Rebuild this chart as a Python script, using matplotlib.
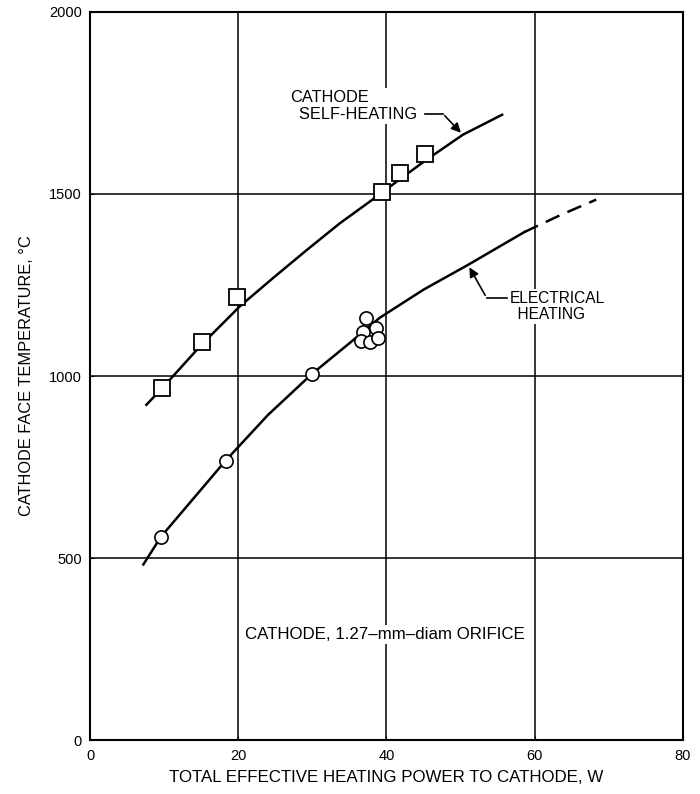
import matplotlib
matplotlib.use("Agg")
import matplotlib.pyplot as plt

# measured points
self_x = [9.75, 15.06, 19.8, 39.4, 41.8, 45.2]
self_y = [967, 1094, 1217, 1506, 1558, 1608]

elec_x = [9.57, 18.3, 29.9, 37.2, 36.8, 38.6, 36.5, 37.8, 38.9]
elec_y = [559, 768, 1005, 1159, 1122, 1133, 1095, 1093, 1105]

# curves
self_curve_x = [7.6, 9.75, 15.0, 20.2, 24.7, 29.2, 33.7, 39.4, 41.8, 45.3, 50.3, 55.6]
self_curve_y = [921, 967, 1085, 1191, 1269, 1345, 1419, 1503, 1540, 1592, 1662, 1717]

elec_curve_x = [7.2, 9.57, 14.0, 18.3, 24.0, 29.9, 35.0, 39.1, 45.0, 51.0, 58.6]
elec_curve_y = [483, 559, 665, 768, 893, 1005, 1090, 1160, 1237, 1305, 1395]
elec_dash_x = [58.6, 63.5, 68.3]
elec_dash_y = [1395, 1442, 1484]

plt.rcParams['font.family'] = ['Liberation Sans', 'DejaVu Sans']

fig = plt.figure(figsize=(7.0, 7.94), dpi=100)
ax = fig.add_axes([0.1286, 0.0674, 0.847, 0.918])

ax.set_xlim(0, 80)
ax.set_ylim(0, 2000)
ax.set_xticks([0, 20, 40, 60, 80])
ax.set_yticks([0, 500, 1000, 1500, 2000])
ax.grid(True, color='black', linewidth=1.1, zorder=1)
for s in ax.spines.values():
    s.set_linewidth(1.5)
ax.tick_params(direction='in', length=3, labelsize=10.5, pad=6)

ax.plot(self_curve_x, self_curve_y, color='black', lw=1.8, zorder=3)
ax.plot(elec_curve_x, elec_curve_y, color='black', lw=1.8, zorder=3)
ax.plot(elec_dash_x, elec_dash_y, color='black', lw=1.8, dashes=(6, 3.5), zorder=3)

ax.plot(self_x, self_y, 's', ms=11, mfc='white', mec='black', mew=1.3, zorder=4)
ax.plot(elec_x, elec_y, 'o', ms=9.5, mfc='white', mec='black', mew=1.2, zorder=4)

bbox = dict(facecolor='white', edgecolor='none', pad=1.5)
ax.text(27.0, 1740, 'CATHODE\n  SELF-HEATING', fontsize=11.8, ha='left', va='center',
        linespacing=1.15, bbox=bbox, zorder=5)
ax.text(56.6, 1191, 'ELECTRICAL\n  HEATING', fontsize=11.2, ha='left', va='center',
        linespacing=1.15, bbox=bbox, zorder=5)
ax.text(39.8, 290, 'CATHODE, 1.27\u2013mm\u2013diam ORIFICE', fontsize=12.2,
        ha='center', va='center', bbox=bbox, zorder=5)

ax.annotate('', xy=(50.3, 1662), xytext=(47.6, 1720),
            arrowprops=dict(arrowstyle='-|>', color='black', lw=1.2,
                            mutation_scale=14), zorder=5)
ax.plot([45.2, 47.6], [1720, 1720], color='black', lw=1.2, zorder=5)
ax.annotate('', xy=(51.0, 1305), xytext=(53.5, 1215),
            arrowprops=dict(arrowstyle='-|>', color='black', lw=1.2,
                            mutation_scale=14), zorder=5)
ax.plot([53.5, 56.2], [1215, 1215], color='black', lw=1.2, zorder=5)

ax.set_xlabel('TOTAL EFFECTIVE HEATING POWER TO CATHODE, W', fontsize=12.2, labelpad=5)
ax.set_ylabel('CATHODE FACE TEMPERATURE, \u00b0C', fontsize=11.8, labelpad=11)

fig.savefig('out.png', dpi=100)
